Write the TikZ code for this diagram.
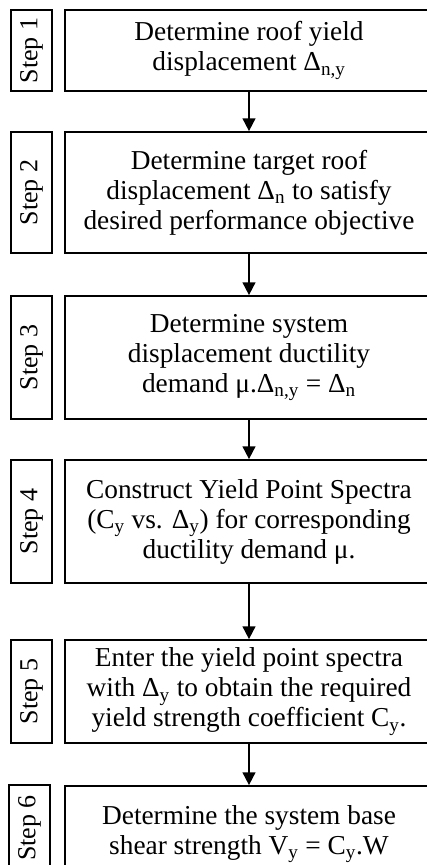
\documentclass[tikz,border=0pt]{standalone}
\usepackage{fontspec}
\setmainfont{Liberation Serif}
\usetikzlibrary{arrows.meta}
\newcommand{\sbs}[1]{\textsubscript{#1}}
\begin{document}
\begin{tikzpicture}[x=0.75pt,y=-0.75pt,
  mainbox/.style={draw,line width=1.3pt,minimum width=368*0.75pt,inner sep=0pt,
    font=\fontsize{20.5}{22.5}\selectfont,align=center},
  labelbox/.style={draw,line width=1.3pt,rotate=90,minimum height=41*0.75pt,inner sep=0pt,
    font=\fontsize{19.5}{21}\selectfont},
  flow/.style={line width=1.3pt,-{Triangle[length=9.5pt,width=9.5pt]}}]
\clip (0,0) rectangle (427,865);
\fill[white] (0,0) rectangle (427,865);
% main boxes: x 65..433, centre 249
\node[mainbox,minimum height=81*0.75pt] (m1) at (249,50.5)
  {Determine roof yield\\displacement Δ\sbs{n,y}};
\node[mainbox,minimum height=121*0.75pt] (m2) at (249,192.5)
  {Determine target roof\\displacement Δ\sbs{n} to satisfy\\desired performance objective};
\node[mainbox,minimum height=123*0.75pt] (m3) at (249,357.5)
  {Determine system\\displacement ductility\\demand μ.Δ\sbs{n,y} = Δ\sbs{n}};
\node[mainbox,minimum height=123*0.75pt] (m4) at (249,521.5)
  {Construct Yield Point Spectra\\(C\sbs{y} vs. Δ\sbs{y}) for corresponding\\ductility demand μ.};
\node[mainbox,minimum height=103*0.75pt] (m5) at (249,691.5)
  {Enter the yield point spectra\\with Δ\sbs{y} to obtain the required\\yield strength coefficient C\sbs{y}.};
\node[mainbox,minimum height=130*0.75pt,text depth=42*0.75pt] (m6) at (249,851)
  {Determine the system base\\shear strength V\sbs{y} = C\sbs{y}.W};
% step labels
\node[labelbox,minimum width=81*0.75pt] (s1) at (31.5,50.5) {Step 1};
\node[labelbox,minimum width=121*0.75pt] (s2) at (31.5,192.5) {Step 2};
\node[labelbox,minimum width=123*0.75pt] (s3) at (31.5,357.5) {Step 3};
\node[labelbox,minimum width=123*0.75pt] (s4) at (31.5,521.5) {Step 4};
\node[labelbox,minimum width=103*0.75pt] (s5) at (31.5,691.5) {Step 5};
\node[labelbox,minimum width=86*0.75pt] (s6) at (29.5,828) {Step 6};
% arrows
\draw[flow] (m1.south) -- (m2.north);
\draw[flow] (m2.south) -- (m3.north);
\draw[flow] (m3.south) -- (m4.north);
\draw[flow] (m4.south) -- (m5.north);
\draw[flow] (m5.south) -- (m6.north);
\end{tikzpicture}
\end{document}
